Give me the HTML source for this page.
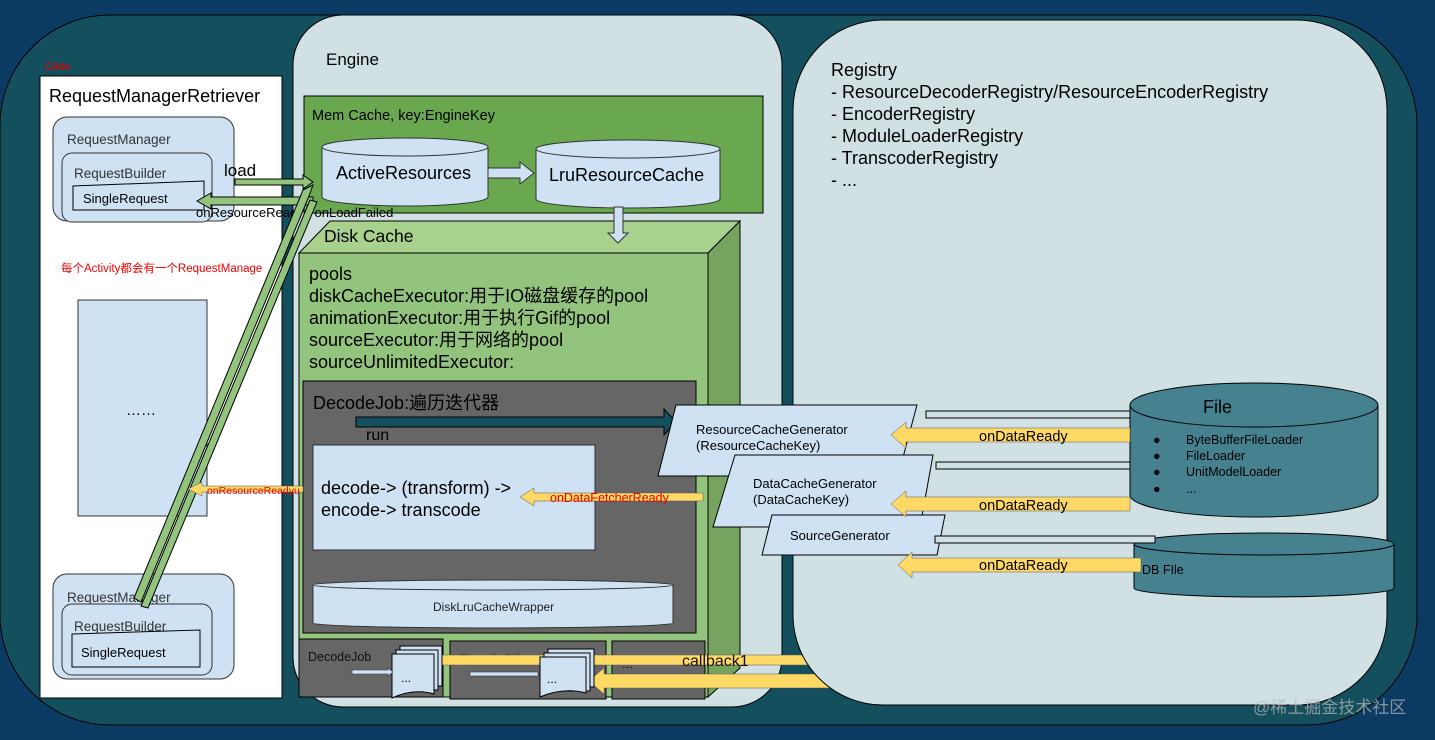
<!DOCTYPE html>
<html><head><meta charset="utf-8"><style>
html,body{margin:0;padding:0;background:#0b3a63;}
svg{display:block;font-family:"Liberation Sans","Noto Sans CJK SC",sans-serif;}
</style></head><body>
<svg width="1435" height="740" viewBox="0 0 1435 740" xmlns="http://www.w3.org/2000/svg">
<rect width="1435" height="740" fill="#0b3a63"/>
<rect x="0" y="15" width="1417" height="710" rx="110" fill="#134f5c" stroke="#000" stroke-width="1"/>
<!-- Engine panel -->
<rect x="293" y="15" width="489" height="692" rx="50" fill="#d0e0e3" stroke="#000"/>
<!-- Glide white box -->
<text x="45" y="70" font-size="11" fill="#e00">Glide</text>
<rect x="40" y="76" width="242" height="622" fill="#fff" stroke="#000"/>
<text x="49" y="102" font-size="18" fill="#000">RequestManagerRetriever</text>
<rect x="53" y="117" width="181" height="104" rx="14" fill="#cfe2f3" stroke="#333"/>
<text x="67" y="144" font-size="13.5" fill="#333">RequestManager</text>
<rect x="62" y="153" width="150" height="69" rx="10" fill="#cfe2f3" stroke="#333"/>
<text x="74" y="178" font-size="13.5" fill="#333">RequestBuilder</text>
<polygon points="73,186 204,181 204,210 73,210" fill="#cfe2f3" stroke="#000"/>
<text x="83" y="203" font-size="13" fill="#000">SingleRequest</text>
<text x="61" y="272" font-size="11.5" fill="#e00">每个Activity都会有一个RequestManage</text>
<rect x="78" y="300" width="129" height="216" fill="#cfe2f3" stroke="#333"/>
<text x="126" y="415" font-size="15" fill="#000">……</text>
<rect x="53" y="574" width="181" height="105" rx="14" fill="#cfe2f3" stroke="#333"/>
<text x="67" y="602" font-size="13.5" fill="#333">RequestManager</text>
<rect x="62" y="604" width="150" height="71" rx="10" fill="#cfe2f3" stroke="#333"/>
<text x="74" y="631" font-size="13.5" fill="#333">RequestBuilder</text>
<polygon points="72,634 200,630 200,667 72,667" fill="#cfe2f3" stroke="#000"/>
<text x="81" y="657" font-size="13" fill="#000">SingleRequest</text>
<!-- Mem cache -->
<text x="326" y="65" font-size="17" fill="#000">Engine</text>
<rect x="304" y="96" width="459" height="117" fill="#6aa84f" stroke="#000"/>
<text x="312" y="120" font-size="14.5" fill="#000">Mem Cache, key:EngineKey</text>
<g fill="#cfe2f3" stroke="#333">
<path d="M322,147 v50 a83,9 0 0 0 166,0 v-50"/>
<ellipse cx="405" cy="147" rx="83" ry="9"/>
<path d="M536,149 v50 a92,9 0 0 0 184,0 v-50"/>
<ellipse cx="628" cy="149" rx="92" ry="9"/>
</g>
<text x="336" y="179" font-size="18" fill="#000">ActiveResources</text>
<text x="549" y="181" font-size="18" fill="#000">LruResourceCache</text>
<polygon points="488,168 520,168 520,162 534,173 520,184 520,178 488,178" fill="#cfe2f3" stroke="#333"/>
<!-- Disk cache box -->
<polygon points="299,253 330,221 740,221 708,253" fill="#a9d18e" stroke="#000"/>
<polygon points="708,253 740,221 740,668 708,697" fill="#76a35f" stroke="#000"/>
<rect x="299" y="253" width="409" height="444" fill="#93c47d" stroke="#000"/>
<polygon points="614,207 623,207 623,233 628,233 618,243 608,233 614,233" fill="#cfe2f3" stroke="#333"/>
<text x="324" y="242" font-size="17.5" fill="#000">Disk Cache</text>
<g font-size="18" fill="#000">
<text x="309" y="280">pools</text>
<text x="309" y="302">diskCacheExecutor:用于IO磁盘缓存的pool</text>
<text x="309" y="324">animationExecutor:用于执行Gif的pool</text>
<text x="309" y="346">sourceExecutor:用于网络的pool</text>
<text x="309" y="368">sourceUnlimitedExecutor:</text>
</g>
<rect x="303" y="381" width="393" height="252" fill="#666" stroke="#000"/>
<text x="313" y="409" font-size="18" fill="#000">DecodeJob:遍历迭代器</text>
<polygon points="356,417 664,417 664,409 676,422 664,435 664,427 356,427" fill="#134f5c" stroke="#000"/>
<text x="366" y="440" font-size="16" fill="#000">run</text>
<rect x="313" y="445" width="282" height="105" fill="#cfe2f3" stroke="#333"/>
<text x="321" y="494" font-size="18" fill="#000">decode-&gt; (transform) -&gt;</text>
<text x="321" y="516" font-size="18" fill="#000">encode-&gt; transcode</text>
<g fill="#cfe2f3" stroke="#333">
<path d="M313,585 v38 a180,5 0 0 0 360,0 v-38"/>
<ellipse cx="493" cy="585" rx="180" ry="5"/>
</g>
<text x="433" y="611" font-size="12" fill="#222">DiskLruCacheWrapper</text>
<!-- bottom jobs -->
<rect x="299" y="639" width="144" height="58" fill="#666" stroke="#000"/>
<rect x="450" y="641" width="156" height="58" fill="#666" stroke="#000"/>
<rect x="612" y="641" width="93" height="58" fill="#666" stroke="#000"/>
<text x="308" y="661" font-size="12.5" fill="#111">DecodeJob</text>
<text x="460" y="663" font-size="12.5" fill="#333">DecodeJob</text>
<text x="622" y="668" font-size="13" fill="#111">...</text>
<!-- callback arrows -->
<rect x="440" y="655" width="420" height="10" fill="#ffd966" stroke="#555" stroke-width="0.5"/>
<text x="682" y="666" font-size="16" fill="#111">callback1</text>
<polygon points="860,674 604,674 604,668 589,681 604,694 604,688 860,688" fill="#ffd966" stroke="#555" stroke-width="0.5"/>
<!-- Registry panel (on top of callback arrows) -->
<rect x="793" y="20" width="594" height="685" rx="90" fill="#d0e0e3" stroke="#000"/>
<g fill="#cfe2f3" stroke="#000">
<rect x="400" y="646" width="42" height="40"/>
<rect x="396" y="650" width="42" height="40"/>
<path d="M392,654 h42 v40 q-20,-6 -42,4 z"/>
<rect x="548" y="649" width="46" height="38"/>
<rect x="544" y="653" width="46" height="38"/>
<path d="M540,657 h46 v36 q-22,-6 -46,4 z"/>
</g>
<text x="401" y="682" font-size="12" fill="#000">...</text>
<text x="547" y="683" font-size="12" fill="#000">...</text>
<polygon points="352,670 388,670 388,668 393,672 388,676 388,674 352,674" fill="#cfe2f3" stroke="#333" stroke-width="0.6"/>
<rect x="470" y="672" width="68" height="4" fill="#cfe2f3" stroke="#333" stroke-width="0.6"/>
<!-- load arrows -->
<polygon points="235,179 303,179 303,175 313,182 303,189 303,185 235,185" fill="#93c47d" stroke="#000"/>
<text x="224" y="176" font-size="17" fill="#000">load</text>
<polygon points="313,197 211,197 211,193 197,201 211,209 211,205 313,205" fill="#93c47d" stroke="#000"/>
<text x="196" y="217" font-size="13" fill="#000">onResourceReady / onLoadFailed</text>
<polygon points="134,598 303,190 313,185 309,196 141,602" fill="#93c47d" stroke="#000"/>
<polygon points="141,606 310,200 317,202 148,608" fill="#93c47d" stroke="#000"/>
<!-- onResourceReadyu -->
<polygon points="303,486 202,486 202,482 188,489 202,496 202,492 303,492" fill="#ffd966" stroke="#555" stroke-width="0.5"/>
<text x="207" y="494" font-size="10.5" fill="#e00">onResourceReadyu</text>
<polygon points="703,493 534,493 534,488 520,497 534,506 534,501 703,501" fill="#ffd966" stroke="#555" stroke-width="0.5"/>
<text x="550" y="502" font-size="12.5" fill="#e00">onDataFetcherReady</text>
<!-- Registry -->
<g font-size="18" fill="#000">
<text x="831" y="76">Registry</text>
<text x="831" y="98">- ResourceDecoderRegistry/ResourceEncoderRegistry</text>
<text x="831" y="120">- EncoderRegistry</text>
<text x="831" y="142">- ModuleLoaderRegistry</text>
<text x="831" y="164">- TranscoderRegistry</text>
<text x="831" y="186">- ...</text>
</g>
<!-- File cylinders -->
<g fill="#45818e" stroke="#000">
<path d="M1130,405 v90 a124,22 0 0 0 248,0 v-90"/>
<ellipse cx="1254" cy="405" rx="124" ry="22"/>
<path d="M1134,544 v44 a130,9 0 0 0 260,0 v-44"/>
<ellipse cx="1264" cy="544" rx="130" ry="11"/>
</g>
<text x="1203" y="413" font-size="18" fill="#000">File</text>
<g font-size="12.5" fill="#000">
<text x="1153" y="444">●</text><text x="1186" y="444">ByteBufferFileLoader</text>
<text x="1153" y="460">●</text><text x="1186" y="460">FileLoader</text>
<text x="1153" y="476">●</text><text x="1186" y="476">UnitModelLoader</text>
<text x="1153" y="493">●</text><text x="1186" y="493">...</text>
</g>
<text x="1142" y="574" font-size="12.5" fill="#000">DB FIle</text>
<!-- generators -->
<g fill="#cfe2f3" stroke="#000">
<polygon points="676,405 917,405 898,476 658,476"/>
<polygon points="735,455 933,455 920,527 713,527"/>
<polygon points="772,515 945,515 937,555 762,555"/>
</g>
<g font-size="13" fill="#000">
<text x="696" y="434">ResourceCacheGenerator</text>
<text x="696" y="450">(ResourceCacheKey)</text>
<text x="753" y="488">DataCacheGenerator</text>
<text x="753" y="504">(DataCacheKey)</text>
<text x="790" y="540">SourceGenerator</text>
</g>
<g fill="#d0e0e3" stroke="#000">
<rect x="926" y="411" width="204" height="7"/>
<rect x="936" y="462" width="194" height="7"/>
<rect x="935" y="536" width="220" height="7"/>
</g>
<g fill="#ffd966" stroke="#555" stroke-width="0.5">
<polygon points="1130,428 906,428 906,422 891,435 906,448 906,442 1130,442"/>
<polygon points="1130,497 906,497 906,491 891,504 906,517 906,511 1130,511"/>
<polygon points="1141,558 912,558 912,552 898,565 912,578 912,572 1141,572"/>
</g>
<g font-size="14.5" fill="#000">
<text x="979" y="441">onDataReady</text>
<text x="979" y="510">onDataReady</text>
<text x="979" y="570">onDataReady</text>
</g>
<text x="1253" y="713" font-size="17" fill="#bbb" opacity="0.7">@稀土掘金技术社区</text>
</svg>
</body></html>
